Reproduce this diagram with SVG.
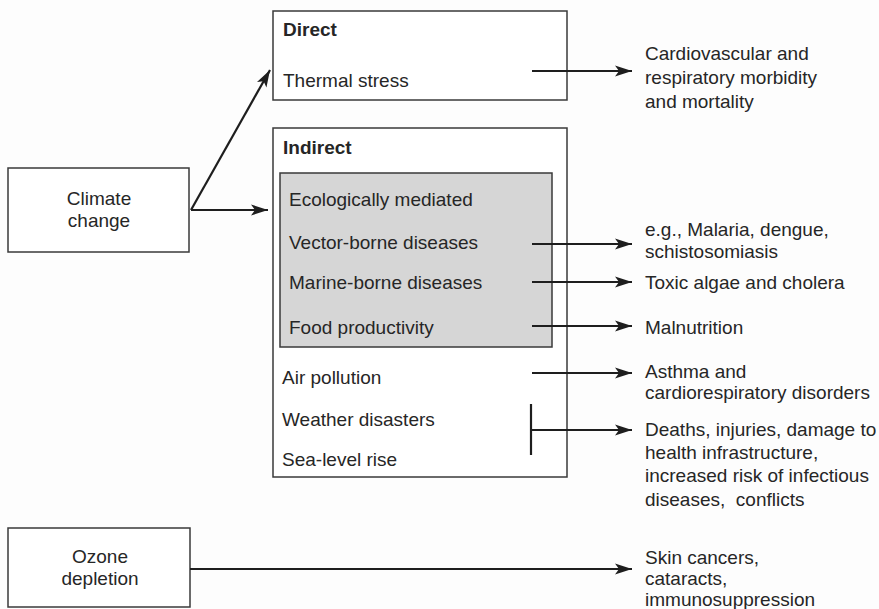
<svg xmlns="http://www.w3.org/2000/svg" width="879" height="609" viewBox="0 0 879 609">
<style>
  text { font-family: "Liberation Sans", Arial, sans-serif; font-size: 19px; fill: #262626; }
  .b { font-weight: bold; }
  .mid { text-anchor: middle; }
  .pre { white-space: pre; }
  .box { fill: #ffffff; stroke: #3a3a3a; stroke-width: 1.5; }
  .gray { fill: #d6d6d6; stroke: #3a3a3a; stroke-width: 1.5; }
  .con { fill: none; stroke: #1e1e1e; stroke-width: 2.2; }
  .arr { marker-end: url(#ah); }
</style>
<defs>
  <marker id="ah" markerUnits="userSpaceOnUse" markerWidth="18" markerHeight="12" refX="17" refY="6" orient="auto">
    <path d="M0,0.5 L17,6 L0,11.5 L4,6 Z" fill="#1e1e1e"/>
  </marker>
</defs>
<rect x="0" y="0" width="879" height="609" fill="#fdfdfd"/>

<g id="climate-change">
  <rect class="box" x="8" y="168" width="181" height="84"/>
  <text class="mid" x="99" y="205">Climate</text>
  <text class="mid" x="99" y="227">change</text>
</g>

<g id="ozone-depletion">
  <rect class="box" x="8" y="528" width="182" height="79"/>
  <text class="mid" x="100" y="563">Ozone</text>
  <text class="mid" x="100" y="585">depletion</text>
</g>

<g id="direct">
  <rect class="box" x="273" y="11" width="294" height="89"/>
  <text class="b" x="283" y="36">Direct</text>
  <text x="283" y="87">Thermal stress</text>
</g>

<g id="indirect">
  <rect class="box" x="273" y="128" width="294" height="349"/>
  <text class="b" x="283" y="154">Indirect</text>
  <text x="282" y="384">Air pollution</text>
  <text x="282" y="426">Weather disasters</text>
  <text x="282" y="466">Sea-level rise</text>
</g>

<g id="ecologically-mediated">
  <rect class="gray" x="280" y="173" width="272" height="174"/>
  <text x="289" y="206">Ecologically mediated</text>
  <text x="289" y="249">Vector-borne diseases</text>
  <text x="289" y="289">Marine-borne diseases</text>
  <text x="289" y="334">Food productivity</text>
</g>

<g id="outcomes">
  <text x="645" y="60">Cardiovascular and</text>
  <text x="645" y="84">respiratory morbidity</text>
  <text x="645" y="108">and mortality</text>
  <text x="645" y="236">e.g., Malaria, dengue,</text>
  <text x="645" y="258">schistosomiasis</text>
  <text x="645" y="289">Toxic algae and cholera</text>
  <text x="645" y="334">Malnutrition</text>
  <text x="645" y="378">Asthma and</text>
  <text x="645" y="399">cardiorespiratory disorders</text>
  <text x="645" y="436">Deaths, injuries, damage to</text>
  <text x="645" y="459">health infrastructure,</text>
  <text x="645" y="482">increased risk of infectious</text>
  <text class="pre" x="645" y="506">diseases,  conflicts</text>
  <text x="645" y="564">Skin cancers,</text>
  <text x="645" y="585">cataracts,</text>
  <text x="645" y="606">immunosuppression</text>
</g>

<g id="connectors">
  <line class="con arr" x1="191" y1="210" x2="270" y2="70"/>
  <line class="con arr" x1="191" y1="210" x2="268" y2="210"/>
  <line class="con arr" x1="532" y1="71" x2="632" y2="71"/>
  <line class="con arr" x1="532" y1="244" x2="632" y2="244"/>
  <line class="con arr" x1="532" y1="282" x2="632" y2="282"/>
  <line class="con arr" x1="532" y1="326" x2="632" y2="326"/>
  <line class="con arr" x1="532" y1="373" x2="632" y2="373"/>
  <line class="con" x1="531" y1="404" x2="531" y2="455"/>
  <line class="con arr" x1="531" y1="430" x2="632" y2="430"/>
  <line class="con arr" x1="190" y1="569" x2="632" y2="569"/>
</g>
</svg>
